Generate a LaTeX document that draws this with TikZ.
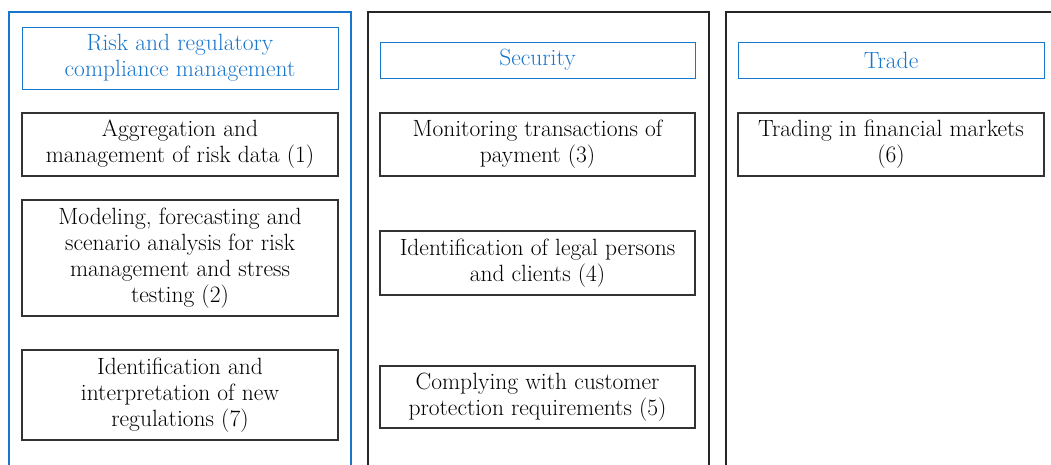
\documentclass[tikz,border=0pt]{standalone}
\definecolor{hblue}{RGB}{24,118,204}
\tikzset{
  colblue/.style={draw=hblue, line width=2.6pt},
  colblack/.style={draw=black!85, line width=2pt},
  headbox/.style={draw=hblue, line width=1pt, text=hblue, align=center, inner sep=0pt, font=\fontsize{23.5}{26}\selectfont},
  itembox/.style={draw=black!80, line width=1.3pt, align=center, inner sep=0pt, font=\fontsize{23.5}{26}\selectfont},
}
\begin{document}
\begin{tikzpicture}[x=1pt,y=1pt]
\useasboundingbox (0,0) rectangle (1051,-464);
\clip (0,0) rectangle (1051,-464);
% columns
\draw[colblue] (9,-474) -- (9,-12) -- (351,-12) -- (351,-474);
\draw[colblack] (368,-474) -- (368,-12) -- (709,-12) -- (709,-474);
\draw[colblack] (726,-474) -- (726,-12) -- (1060,-12) -- (1060,-474);
% headers
\node[headbox, minimum width=316pt, minimum height=62pt] (h1) at (180,-58) {Risk and regulatory\\compliance management};
\node[headbox, minimum width=315pt, minimum height=36pt] (h2) at (537.5,-60) {Security};
\node[headbox, minimum width=306pt, minimum height=36pt] (h3) at (891,-60) {Trade};
% column 1
\node[itembox, minimum width=316pt, minimum height=63pt] (n1) at (180,-144.5) {Aggregation and\\management of risk data (1)};
\node[itembox, minimum width=316pt, minimum height=116pt] (n2) at (180,-258) {Modeling, forecasting and\\scenario analysis for risk\\management and stress\\testing (2)};
\node[itembox, minimum width=316pt, minimum height=90pt] (n7) at (180,-395) {Identification and\\interpretation of new\\regulations (7)};
% column 2
\node[itembox, minimum width=315pt, minimum height=63pt] (n3) at (537.5,-144.5) {Monitoring transactions of\\payment (3)};
\node[itembox, minimum width=315pt, minimum height=64pt] (n4) at (537.5,-263) {Identification of legal persons\\and clients (4)};
\node[itembox, minimum width=315pt, minimum height=62pt] (n5) at (537.5,-397) {Complying with customer\\protection requirements (5)};
% column 3
\node[itembox, minimum width=306pt, minimum height=63pt] (n6) at (891,-144.5) {Trading in financial markets\\(6)};
\end{tikzpicture}
\end{document}
